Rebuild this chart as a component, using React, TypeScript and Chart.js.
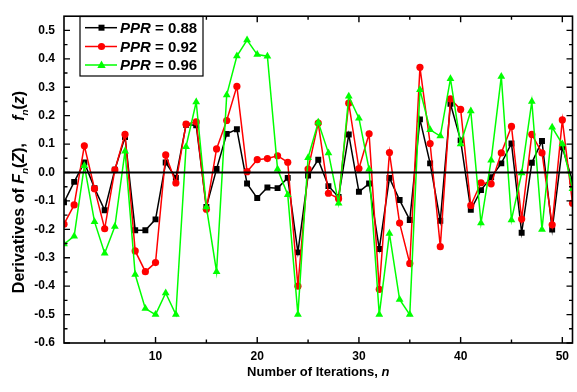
import React, { useEffect, useRef } from "react";
import { Chart, registerables } from "chart.js";

Chart.register(...registerables);

const iterations = [1, 2, 3, 4, 5, 6, 7, 8, 9, 10, 11, 12, 13, 14, 15, 16, 17, 18, 19, 20, 21, 22, 23, 24, 25, 26, 27, 28, 29, 30, 31, 32, 33, 34, 35, 36, 37, 38, 39, 40, 41, 42, 43, 44, 45, 46, 47, 48, 49, 50, 51];

const ppr088 = [-0.105, -0.033, 0.035, -0.055, -0.133, 0.01, 0.125, -0.203, -0.203, -0.165, 0.035, -0.019, 0.168, 0.166, -0.121, 0.012, 0.136, 0.152, -0.039, -0.09, -0.053, -0.055, -0.019, -0.281, -0.011, 0.045, -0.048, -0.086, 0.134, -0.068, -0.039, -0.269, -0.019, -0.097, -0.167, 0.187, 0.032, -0.17, 0.242, 0.113, -0.131, -0.062, -0.017, 0.032, 0.102, -0.212, 0.034, 0.111, -0.201, 0.089, -0.031];

const ppr092 = [-0.182, -0.114, 0.094, -0.057, -0.198, 0.009, 0.134, -0.276, -0.349, -0.317, 0.062, -0.037, 0.17, 0.178, -0.129, 0.083, 0.183, 0.303, 0.003, 0.045, 0.049, 0.059, 0.036, -0.4, 0.012, 0.174, -0.073, -0.092, 0.244, 0.014, 0.136, -0.411, 0.07, -0.178, -0.32, 0.37, 0.102, -0.261, 0.259, 0.222, -0.116, -0.036, -0.04, 0.069, 0.162, -0.164, 0.134, 0.069, -0.184, 0.185, -0.108];

const ppr096 = [-0.252, -0.224, 0.024, -0.173, -0.284, -0.19, 0.075, -0.359, -0.479, -0.5, -0.424, -0.5, 0.091, 0.248, -0.121, -0.349, 0.273, 0.41, 0.466, 0.415, 0.409, 0.011, -0.078, -0.5, 0.052, 0.177, 0.069, -0.108, 0.268, 0.191, 0.011, -0.5, -0.215, -0.447, -0.5, 0.291, 0.15, 0.128, 0.33, 0.1, 0.216, -0.178, 0.043, 0.338, -0.167, -0.002, 0.25, -0.201, 0.159, 0.1, -0.057];

const seriesLabels = ["0.88", "0.92", "0.96"];
const seriesColors = ["#000000", "#ff0000", "#00ff00"];
const seriesStyles = ["rect", "circle", "triangle"];

const xMajorTicks = [10, 20, 30, 40, 50];
const xMinorTicks = [5, 15, 25, 35, 45];
const yMajorTicks = [-0.6, -0.5, -0.4, -0.3, -0.2, -0.1, 0, 0.1, 0.2, 0.3, 0.4, 0.5];
const yMinorTicks = [-0.55, -0.45, -0.35, -0.25, -0.15, -0.05, 0.05, 0.15, 0.25, 0.35, 0.45];

const FONT = '"Liberation Sans", Arial, sans-serif';

type Run = { t: string; it?: boolean; sub?: boolean };

function fnt(size: number, it?: boolean) {
  return `${it ? "italic " : ""}bold ${size}px ${FONT}`;
}

function runsWidth(ctx: CanvasRenderingContext2D, runs: Run[], size: number) {
  let w = 0;
  for (const r of runs) {
    ctx.font = fnt(r.sub ? size * 0.62 : size, r.it);
    w += ctx.measureText(r.t).width;
  }
  return w;
}

function drawRuns(ctx: CanvasRenderingContext2D, runs: Run[], x: number, y: number, size: number) {
  let cx = x;
  for (const r of runs) {
    const s = r.sub ? size * 0.62 : size;
    ctx.font = fnt(s, r.it);
    ctx.fillText(r.t, cx, r.sub ? y + size * 0.22 : y);
    cx += ctx.measureText(r.t).width;
  }
}

function drawMarker(ctx: CanvasRenderingContext2D, style: string, x: number, y: number, color: string) {
  ctx.fillStyle = color;
  ctx.beginPath();
  if (style === "rect") {
    ctx.rect(x - 3, y - 3, 6, 6);
  } else if (style === "circle") {
    ctx.arc(x, y, 3.6, 0, Math.PI * 2);
  } else {
    ctx.moveTo(x, y - 4.5);
    ctx.lineTo(x + 4.2, y + 3);
    ctx.lineTo(x - 4.2, y + 3);
    ctx.closePath();
  }
  ctx.fill();
}

const decorPlugin = {
  id: "decor",
  beforeDraw(chart: any) {
    const ctx = chart.ctx;
    ctx.save();
    ctx.fillStyle = "#ffffff";
    ctx.fillRect(0, 0, chart.width, chart.height);
    ctx.restore();
  },
  afterDatasetsDraw(chart: any) {
    const ctx: CanvasRenderingContext2D = chart.ctx;
    const { left, right, top, bottom } = chart.chartArea;
    const xs = chart.scales.x;
    const ys = chart.scales.y;
    ctx.save();

    // zero line
    ctx.strokeStyle = "#000";
    ctx.lineWidth = 2;
    const y0 = ys.getPixelForValue(0);
    ctx.beginPath();
    ctx.moveTo(left, y0);
    ctx.lineTo(right, y0);
    ctx.stroke();

    // frame
    ctx.lineWidth = 1.6;
    ctx.strokeRect(left, top, right - left, bottom - top);

    // ticks
    ctx.lineWidth = 1.4;
    const majorLen = 6;
    const minorLen = 3.5;
    ctx.beginPath();
    const xt = (v: number, len: number) => {
      const px = xs.getPixelForValue(v);
      ctx.moveTo(px, bottom);
      ctx.lineTo(px, bottom - len);
      ctx.moveTo(px, top);
      ctx.lineTo(px, top + len);
    };
    const yt = (v: number, len: number) => {
      const py = ys.getPixelForValue(v);
      ctx.moveTo(left, py);
      ctx.lineTo(left + len, py);
      ctx.moveTo(right, py);
      ctx.lineTo(right - len, py);
    };
    xMajorTicks.forEach((v) => xt(v, majorLen));
    xMinorTicks.forEach((v) => xt(v, minorLen));
    yMajorTicks.forEach((v) => yt(v, majorLen));
    yMinorTicks.forEach((v) => yt(v, minorLen));
    ctx.stroke();

    // legend
    const lx = 80, ly = 16.5, lw = 123, lh = 59.5;
    ctx.fillStyle = "#ffffff";
    ctx.fillRect(lx, ly, lw, lh);
    ctx.strokeStyle = "#000";
    ctx.lineWidth = 1.2;
    ctx.strokeRect(lx, ly, lw, lh);
    const rowsY = [27.7, 46.5, 65];
    ctx.textBaseline = "middle";
    for (let i = 0; i < 3; i++) {
      const ry = rowsY[i];
      ctx.strokeStyle = seriesColors[i];
      ctx.lineWidth = 1.5;
      ctx.beginPath();
      ctx.moveTo(85, ry);
      ctx.lineTo(117, ry);
      ctx.stroke();
      drawMarker(ctx, seriesStyles[i], 101.5, ry, seriesColors[i]);
      ctx.fillStyle = "#000";
      drawRuns(ctx, [{ t: "PPR", it: true }, { t: " = " + seriesLabels[i] }], 120, ry + 1, 15);
    }

    // axis titles
    ctx.fillStyle = "#000";
    ctx.textBaseline = "alphabetic";
    const xRuns: Run[] = [{ t: "Number of Iterations, " }, { t: "n", it: true }];
    const xSize = 13;
    const xw = runsWidth(ctx, xRuns, xSize);
    drawRuns(ctx, xRuns, (left + right) / 2 - xw / 2, 375.5, xSize);

    const yRuns: Run[] = [
      { t: "Derivatives of " },
      { t: "F", it: true },
      { t: "n", it: true, sub: true },
      { t: "(" },
      { t: "Z", it: true },
      { t: "),     " },
      { t: "f", it: true },
      { t: "n", it: true, sub: true },
      { t: "(" },
      { t: "z", it: true },
      { t: ")" },
    ];
    const ySize = 16;
    const yw = runsWidth(ctx, yRuns, ySize);
    ctx.translate(24, 192);
    ctx.rotate(-Math.PI / 2);
    drawRuns(ctx, yRuns, -yw / 2, 0, ySize);
    ctx.restore();
  },
};

export default function App() {
  const ref = useRef<HTMLCanvasElement | null>(null);
  useEffect(() => {
    if (!ref.current) return;
    const all = [ppr088, ppr092, ppr096];
    const chart = new Chart(ref.current, {
      type: "line",
      data: {
        datasets: all.map((arr, i) => ({
          label: "PPR = " + seriesLabels[i],
          data: arr.map((v, j) => ({ x: iterations[j], y: v })),
          borderColor: seriesColors[i],
          backgroundColor: seriesColors[i],
          borderWidth: 1.5,
          pointStyle: seriesStyles[i] as any,
          pointRadius: i === 0 ? 4.2 : i === 1 ? 3.6 : 4.5,
          pointBorderWidth: 0,
          pointBackgroundColor: seriesColors[i],
          tension: 0,
          order: 3 - i,
        })),
      },
      options: {
        animation: false,
        responsive: false,
        events: [],
        layout: { padding: { top: 4, right: 4, left: 0, bottom: 0 } },
        plugins: { legend: { display: false }, tooltip: { enabled: false } },
        scales: {
          x: {
            type: "linear",
            min: 1,
            max: 51,
            grid: { display: false, drawTicks: false },
            border: { display: false },
            afterBuildTicks: (s: any) => {
              s.ticks = xMajorTicks.map((v) => ({ value: v }));
            },
            afterFit: (s: any) => {
              s.height = 49;
            },
            ticks: {
              padding: 6,
              color: "#000",
              font: { family: FONT, size: 12, weight: "bold" },
              maxRotation: 0,
              autoSkip: false,
              callback: (v: any) => String(v),
            },
          },
          y: {
            type: "linear",
            min: -0.6,
            max: 0.55,
            grid: { display: false, drawTicks: false },
            border: { display: false },
            afterBuildTicks: (s: any) => {
              s.ticks = yMajorTicks.map((v) => ({ value: v }));
            },
            afterFit: (s: any) => {
              s.width = 64;
            },
            ticks: {
              padding: 9,
              color: "#000",
              font: { family: FONT, size: 12, weight: "bold" },
              autoSkip: false,
              callback: (v: any) => Number(v).toFixed(1),
            },
          },
        },
      },
      plugins: [decorPlugin],
    });
    return () => chart.destroy();
  }, []);
  return (
    <div style={{ position: "fixed", left: 0, top: 0, width: 577, height: 392, background: "#fff" }}>
      <canvas ref={ref} width={577} height={392} style={{ display: "block", width: 577, height: 392 }} />
    </div>
  );
}
